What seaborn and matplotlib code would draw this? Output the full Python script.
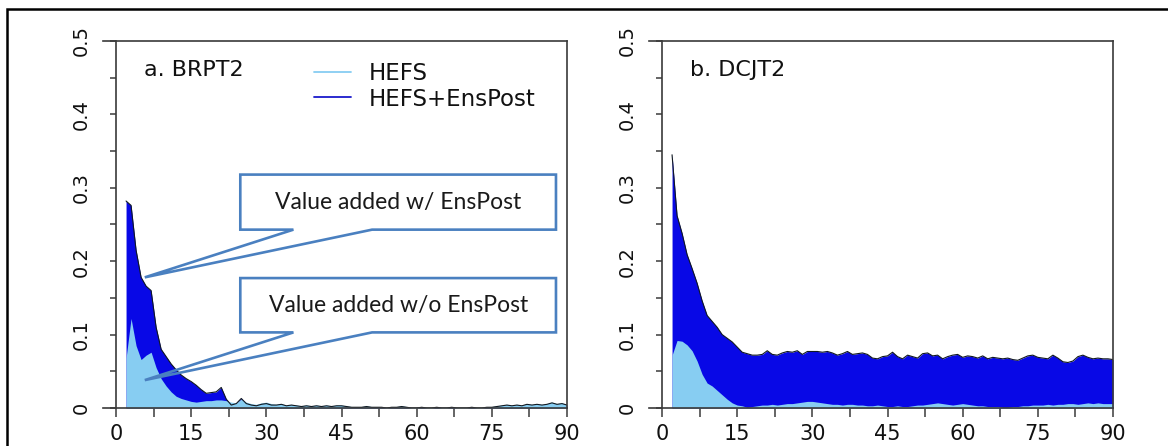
import numpy as np
import matplotlib
matplotlib.use("Agg")
import matplotlib.pyplot as plt
import seaborn as sns
from matplotlib.lines import Line2D
from matplotlib.patches import Polygon, Rectangle
from matplotlib.ticker import MultipleLocator, FixedLocator, FuncFormatter

# ---------------- data ----------------
days = list(range(2, 91))

brpt2_hefs = [0.068, 0.122, 0.085, 0.066, 0.072, 0.076, 0.055, 0.040, 0.030, 0.022,
              0.016, 0.013, 0.011, 0.009, 0.008, 0.009, 0.010, 0.010, 0.011, 0.011,
              0.010, 0.008, 0.007, 0.012, 0.008, 0.006, 0.005, 0.007, 0.008, 0.006,
              0.005, 0.006, 0.004, 0.005, 0.004, 0.003, 0.004, 0.003, 0.004, 0.003,
              0.004, 0.003, 0.004, 0.004, 0.003, 0.002, 0.002, 0.002, 0.003, 0.002,
              0.002, 0.002, 0.001, 0.002, 0.002, 0.003, 0.002, 0.001, 0.001, 0.002,
              0.001, 0.001, 0.002, 0.001, 0.001, 0.002, 0.001, 0.001, 0.001, 0.002,
              0.001, 0.001, 0.002, 0.002, 0.003, 0.004, 0.005, 0.004, 0.005, 0.004,
              0.006, 0.005, 0.006, 0.005, 0.006, 0.008, 0.006, 0.007, 0.005]

brpt2_ens = [0.282, 0.276, 0.215, 0.178, 0.166, 0.160, 0.110, 0.080, 0.070, 0.060,
             0.052, 0.045, 0.040, 0.036, 0.031, 0.025, 0.020, 0.021, 0.022, 0.028,
             0.012, 0.004, 0.006, 0.013, 0.006, 0.004, 0.003, 0.005, 0.006, 0.004,
             0.004, 0.005, 0.003, 0.004, 0.003, 0.002, 0.003, 0.002, 0.003, 0.002,
             0.003, 0.002, 0.003, 0.003, 0.002, 0.001, 0.001, 0.001, 0.002, 0.001,
             0.001, 0.001, 0.000, 0.001, 0.001, 0.002, 0.001, 0.000, 0.000, 0.001,
             0.000, 0.000, 0.001, 0.000, 0.000, 0.001, 0.000, 0.000, 0.000, 0.001,
             0.000, 0.000, 0.001, 0.001, 0.002, 0.003, 0.004, 0.003, 0.004, 0.003,
             0.005, 0.004, 0.005, 0.004, 0.005, 0.007, 0.005, 0.006, 0.004]

dcjt2_hefs = [0.072, 0.092, 0.091, 0.086, 0.078, 0.064, 0.046, 0.034, 0.030, 0.024,
              0.018, 0.012, 0.007, 0.004, 0.003, 0.001, 0.002, 0.003, 0.004, 0.004,
              0.005, 0.004, 0.005, 0.006, 0.006, 0.007, 0.008, 0.009, 0.009, 0.008,
              0.007, 0.006, 0.005, 0.005, 0.004, 0.005, 0.005, 0.004, 0.004, 0.003,
              0.003, 0.004, 0.003, 0.002, 0.002, 0.003, 0.002, 0.002, 0.003, 0.004,
              0.004, 0.005, 0.006, 0.007, 0.006, 0.005, 0.004, 0.005, 0.006, 0.005,
              0.004, 0.003, 0.003, 0.002, 0.002, 0.002, 0.001, 0.001, 0.002, 0.002,
              0.003, 0.003, 0.004, 0.004, 0.004, 0.005, 0.004, 0.005, 0.005, 0.006,
              0.006, 0.005, 0.006, 0.007, 0.006, 0.007, 0.006, 0.006, 0.006]

dcjt2_ens = [0.345, 0.262, 0.238, 0.209, 0.190, 0.170, 0.146, 0.126, 0.118, 0.110,
             0.100, 0.095, 0.090, 0.083, 0.076, 0.074, 0.072, 0.072, 0.073, 0.078,
             0.073, 0.072, 0.075, 0.077, 0.076, 0.078, 0.073, 0.077, 0.077, 0.077,
             0.076, 0.077, 0.075, 0.072, 0.074, 0.077, 0.073, 0.074, 0.075, 0.073,
             0.068, 0.067, 0.070, 0.071, 0.076, 0.070, 0.067, 0.072, 0.070, 0.068,
             0.074, 0.075, 0.071, 0.072, 0.067, 0.070, 0.072, 0.073, 0.069, 0.071,
             0.070, 0.068, 0.071, 0.067, 0.069, 0.068, 0.067, 0.068, 0.066, 0.065,
             0.068, 0.071, 0.072, 0.069, 0.068, 0.067, 0.072, 0.068, 0.063, 0.062,
             0.064, 0.070, 0.072, 0.069, 0.067, 0.068, 0.067, 0.067, 0.066]

panel_titles = ["a. BRPT2", "b. DCJT2"]
series_labels = ["HEFS", "HEFS+EnsPost"]
x_ticks = [0, 15, 30, 45, 60, 75, 90]
y_ticks = [0, 0.1, 0.2, 0.3, 0.4, 0.5]
callout_texts = ["Value added w/ EnsPost", "Value added w/o EnsPost"]

# ---------------- style ----------------
sns.set_style("white")
plt.rcParams['font.family'] = ['DejaVu Sans']

LIGHT = "#87cdf2"
DARK = "#0808e6"
SPINE = "#3a3a3a"
CALLOUT = "#4a80c0"

fig = plt.figure(figsize=(11.68, 4.46), dpi=100)
W, H = 1168.0, 446.0
ax_w = 464 / W
ax_b = 1 - 408 / H
ax_h = (408 - 41) / H
axes = [fig.add_axes([103 / W, ax_b, ax_w, ax_h]),
        fig.add_axes([649 / W, ax_b, ax_w, ax_h])]

data = [(brpt2_hefs, brpt2_ens), (dcjt2_hefs, dcjt2_ens)]

for ax, (hefs, ens), title in zip(axes, data, panel_titles):
    ax.fill_between(days, 0, ens, color=DARK, lw=0)
    ax.fill_between(days, 0, hefs, color=LIGHT, lw=0)
    sns.lineplot(x=days, y=ens, ax=ax, color="#101820", lw=0.8, legend=False)
    ax.set_xlim(-2.6, 90)
    ax.set_ylim(0, 0.5)
    ax.spines['left'].set_position(('data', 0))
    for s in ax.spines.values():
        s.set_color(SPINE)
        s.set_linewidth(1.2)
    ax.xaxis.set_major_locator(FixedLocator(x_ticks))
    ax.xaxis.set_minor_locator(MultipleLocator(7.5))
    ax.yaxis.set_major_locator(FixedLocator(y_ticks))
    ax.yaxis.set_minor_locator(MultipleLocator(0.05))
    ax.yaxis.set_major_formatter(FuncFormatter(lambda v, p: "0" if v == 0 else f"{v:.1f}"))
    ax.tick_params(axis='x', which='both', direction='out', length=6.5, width=1.1,
                   color=SPINE, bottom=True, labelsize=15, pad=5, labelcolor='#111111')
    ax.tick_params(axis='y', which='both', direction='out', length=4, width=1.1,
                   color=SPINE, left=True, labelsize=14, pad=14, labelcolor='#111111')
    for lab in ax.get_yticklabels():
        lab.set_rotation(90)
        lab.set_va('center')
    ax.set_xlabel("")
    ax.set_ylabel("")
    ax.text(5.5, 0.461, title, ha='left', va='center', fontsize=16, color='#111111')

# legend on left panel
handles = [Line2D([], [], color=LIGHT, lw=1.3), Line2D([], [], color="#1a1acc", lw=1.3)]
leg = axes[0].legend(handles, series_labels, loc='center left', bbox_to_anchor=(0.455, 0.877),
                     frameon=False, fontsize=16.5, handlelength=1.6, handletextpad=0.8,
                     labelspacing=0.12, borderpad=0, borderaxespad=0)
for t in leg.get_texts():
    t.set_color('#111111')

# callouts on left panel
ax = axes[0]
box_x0, box_x1 = 24.8, 87.8
tail_a, tail_b = 35.4, 51.1
tip_x = 5.74
boxes = [(0.243, 0.318, 0.178), (0.103, 0.177, 0.038)]
for (y0, y1, tip_y), txt in zip(boxes, callout_texts):
    pts = [(box_x0, y1), (box_x1, y1), (box_x1, y0), (tail_b, y0), (tip_x, tip_y),
           (tail_a, y0), (box_x0, y0)]
    ax.add_patch(Polygon(pts, closed=True, fill=False, ec=CALLOUT, lw=1.9,
                         joinstyle='miter', zorder=5))
    ax.text((box_x0 + box_x1) / 2, (y0 + y1) / 2, txt, ha='center', va='center',
            family=['Lato', 'DejaVu Sans'], fontsize=16.5, color='#1a1a1a', zorder=6)

# outer frame
fig.add_artist(Rectangle((7 / W, -0.2), 1.2, 1.2 - 9 / H, transform=fig.transFigure,
                         fill=False, ec='black', lw=1.8))

fig.savefig("out.png", dpi=100)
